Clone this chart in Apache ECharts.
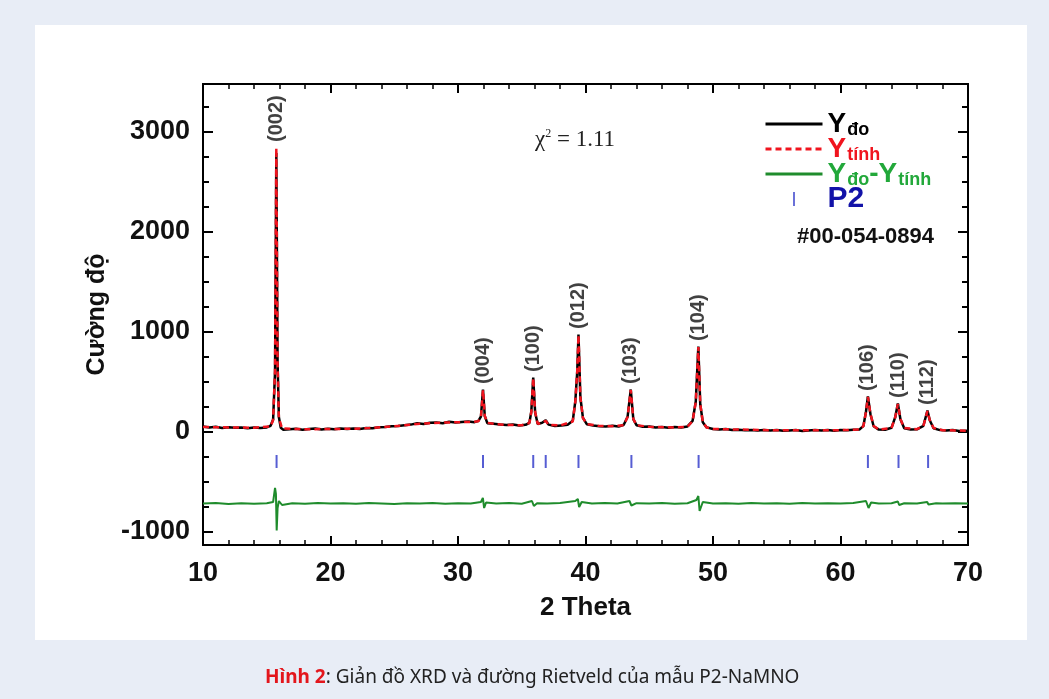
<!DOCTYPE html>
<html>
<head>
<meta charset="utf-8">
<script src="https://cdn.jsdelivr.net/npm/echarts@6/dist/echarts.min.js"></script>
<style>
    html, body { margin: 0; padding: 0; background: #e8edf6; }
    #chart { width: 1049px; height: 699px; }
</style>
</head>
<body>
<div id="chart"></div>
<script>
// 实测强度 Y_đo: [2θ, 强度]
const yObs = [
    [10.0,55],[10.5,45],[11.0,52],[11.5,40],[12.0,48],[12.5,42],[13.0,46],[13.5,38],[14.0,44],[14.5,40],
    [15.0,46],[15.3,62],[15.5,125],[15.65,600],[15.75,2790],[15.85,700],[15.95,150],[16.1,42],[16.3,22],[16.8,28],
    [17.3,32],[17.8,22],[18.3,30],[18.8,34],[19.3,25],[19.8,32],[20.3,27],[20.8,36],[21.3,29],[21.8,35],
    [22.3,30],[22.8,40],[23.3,38],[23.8,47],[24.3,50],[24.8,57],[25.3,60],[25.8,68],[26.3,74],[26.8,88],
    [27.3,80],[27.8,92],[28.3,96],[28.8,88],[29.3,102],[29.8,94],[30.3,101],[30.8,106],[31.3,98],[31.6,112],
    [31.8,155],[31.96,425],[32.1,160],[32.3,88],[32.8,82],[33.3,74],[33.8,71],[34.3,74],[34.8,64],[35.3,72],
    [35.6,92],[35.75,205],[35.9,545],[36.05,195],[36.25,80],[36.6,92],[36.88,118],[37.1,74],[37.6,60],[38.1,66],
    [38.6,72],[39.0,112],[39.2,305],[39.35,600],[39.45,975],[39.6,345],[39.8,142],[40.1,78],[40.6,66],[41.1,58],
    [41.6,56],[42.1,63],[42.6,54],[43.0,72],[43.3,152],[43.55,425],[43.75,128],[44.0,68],[44.5,52],[45.0,56],
    [45.5,44],[46.0,51],[46.5,42],[47.0,49],[47.5,44],[48.0,56],[48.4,112],[48.65,305],[48.85,855],[49.0,278],
    [49.2,98],[49.5,46],[50.0,30],[50.5,24],[51.0,29],[51.5,19],[52.0,23],[52.5,17],[53.0,21],[53.5,14],
    [54.0,21],[54.5,15],[55.0,19],[55.5,12],[56.0,16],[56.5,19],[57.0,11],[57.5,16],[58.0,21],[58.5,14],
    [59.0,19],[59.5,13],[60.0,21],[60.5,17],[61.0,23],[61.5,26],[61.8,62],[62.0,205],[62.15,355],[62.35,178],
    [62.6,58],[63.0,24],[63.5,22],[64.0,42],[64.3,152],[64.5,285],[64.7,128],[65.0,38],[65.5,24],[66.0,27],
    [66.5,62],[66.82,215],[67.0,118],[67.3,38],[67.8,19],[68.3,14],[68.8,21],[69.3,11],[70.0,12]
];

// 计算强度 Y_tính
const yCalc = [
    [10.0,50],[12.0,46],[14.0,43],[15.3,55],[15.5,120],[15.65,620],[15.75,2840],[15.85,680],[15.95,140],[16.2,35],
    [18.0,28],[20.0,30],[22.0,33],[23.0,40],[24.0,48],[25.0,58],[26.0,70],[27.0,82],[28.0,90],[29.0,95],
    [30.0,98],[31.0,100],[31.6,108],[31.8,150],[31.96,420],[32.1,160],[32.3,92],[33.0,78],[34.0,70],[35.0,68],
    [35.6,90],[35.75,200],[35.9,540],[36.05,200],[36.25,82],[36.6,88],[36.88,112],[37.1,72],[38.0,65],[39.0,105],
    [39.2,300],[39.35,610],[39.45,970],[39.6,340],[39.8,140],[40.1,80],[41.0,62],[42.0,58],[43.0,68],[43.3,150],
    [43.55,420],[43.75,130],[44.0,68],[45.0,52],[47.0,46],[48.0,52],[48.4,110],[48.65,300],[48.85,850],[49.0,280],
    [49.2,100],[49.5,45],[50.0,30],[55.0,17],[60.0,18],[61.5,25],[61.8,60],[62.0,200],[62.15,350],[62.35,180],
    [62.6,60],[63.0,25],[64.0,40],[64.3,150],[64.5,280],[64.7,130],[65.0,40],[66.0,28],[66.5,60],[66.82,210],
    [67.0,120],[67.3,40],[68.0,18],[70.0,12]
];

// 差值曲线 Y_đo - Y_tính（整体下移显示）
const yDiff = [
    [10,-715],[11,-710],[12,-720],[13,-712],[14,-718],[15,-712],[15.5,-700],[15.65,-560],[15.72,-620],[15.78,-985],
    [15.85,-760],[15.95,-690],[16.2,-730],[17,-712],[18,-718],[19,-710],[20,-716],[21,-712],[22,-718],[23,-710],
    [24,-715],[25,-720],[26,-712],[27,-716],[28,-710],[29,-718],[30,-712],[31,-716],[31.8,-700],[31.95,-660],
    [32.05,-760],[32.2,-705],[33,-715],[34,-710],[35,-718],[35.8,-690],[35.95,-740],[36.2,-712],[37,-716],[38,-710],
    [39.2,-690],[39.4,-670],[39.5,-750],[39.7,-700],[40.5,-715],[41.5,-710],[42.5,-716],[43.45,-690],[43.6,-735],[44,-712],
    [45,-716],[46,-710],[47,-718],[48,-712],[48.7,-680],[48.85,-640],[48.95,-790],[49.2,-700],[50,-715],[51,-712],
    [52,-718],[53,-710],[54,-716],[55,-712],[56,-718],[57,-710],[58,-715],[59,-712],[60,-716],[61,-710],
    [62,-690],[62.1,-670],[62.2,-760],[62.4,-705],[63,-716],[64,-712],[64.5,-695],[64.6,-730],[65,-712],[66,-716],
    [66.8,-700],[66.9,-725],[67.5,-712],[68,-715],[69,-712],[70,-714]
];

// P2 #00-054-0894 衍射峰位置
const p2Positions = [15.77, 31.96, 35.9, 36.88, 39.45, 43.6, 48.87, 62.15, 64.55, 66.87];
const p2Row = -295;

// 晶面指数标注
const hklNames = ['(002)', '(004)', '(100)', '(012)', '(103)', '(104)', '(106)', '(110)', '(112)'];
const hklPos = [15.77, 31.96, 35.9, 39.45, 43.55, 48.87, 62.15, 64.55, 66.85];
const hklTop = [2840, 420, 540, 970, 420, 850, 350, 280, 210];

// 坐标轴刻度
const xMin = 10, xMax = 70;
const yMin = -1130, yMax = 3480;
const yMajor = [-1000, 0, 1000, 2000, 3000];
const yMinor = [-1000, -750, -500, -250, 0, 250, 500, 750, 1000, 1250, 1500, 1750,
    2000, 2250, 2500, 2750, 3000, 3250];

const FONT = 'Liberation Sans';

/**
 * 生成y轴（左/右，主/次刻度）
 */
function makeYAxis(position, ticks, len, withLabel) {
    return {
        type: 'value', position: position, min: yMin, max: yMax,
        axisLine: { show: true, onZero: false, lineStyle: { color: '#000', width: 2 } },
        axisTick: { show: true, inside: true, length: len, customValues: ticks,
            lineStyle: { color: '#000', width: 2 } },
        axisLabel: withLabel ? {
            show: true, customValues: yMajor, margin: 13,
            formatter: v => String(v),
            fontFamily: FONT, fontWeight: 'bold', fontSize: 27, color: '#111'
        } : { show: false },
        splitLine: { show: false },
        name: withLabel ? 'Cường độ' : '',
        nameLocation: 'middle', nameGap: 77,
        nameTextStyle: { fontFamily: FONT, fontWeight: 'bold', fontSize: 25, color: '#111' }
    };
}

function makeXAxis(position, withLabel) {
    return {
        type: 'value', position: position, min: xMin, max: xMax, interval: 10,
        axisLine: { show: true, onZero: false, lineStyle: { color: '#000', width: 2 } },
        axisTick: { show: true, inside: true, length: 9, lineStyle: { color: '#000', width: 2 } },
        minorTick: { show: true, splitNumber: 5, length: 5, lineStyle: { color: '#000', width: 1.5 } },
        axisLabel: withLabel ? {
            show: true, margin: 15,
            fontFamily: FONT, fontWeight: 'bold', fontSize: 27, color: '#111'
        } : { show: false },
        splitLine: { show: false },
        name: withLabel ? '2 Theta' : '',
        nameLocation: 'middle', nameGap: 50,
        nameTextStyle: { fontFamily: FONT, fontWeight: 'bold', fontSize: 26, color: '#111' }
    };
}

// 图例文字（下标用小字号并下移）
const legendText = {
    'Yđo': '{yk|Y}{sk|đo}',
    'Ytính': '{yr|Y}{sr|tính}',
    'Yđo-Ytính': '{yg|Y}{sg|đo}{yg|-Y}{sg|tính}',
    'P2': '{p2|P2}'
};
const bigY = { fontFamily: FONT, fontSize: 28, fontWeight: 'bold', lineHeight: 22 };
const subY = { fontFamily: FONT, fontSize: 18, fontWeight: 'bold', lineHeight: 12, padding: [12, 0, 0, 1] };

const chart = echarts.init(document.getElementById('chart'));

chart.setOption({
    backgroundColor: '#e8edf6',
    animation: false,
    title: {
        left: 265, top: 668, padding: 0,
        text: '{r|Hình 2}{n|: Giản đồ XRD và đường Rietveld của mẫu P2-NaMNO}',
        textStyle: {
            rich: {
                r: { fontFamily: 'Noto Sans', fontSize: 19, fontWeight: 'bold', color: '#e3161c' },
                n: { fontFamily: 'Noto Sans', fontSize: 19, fontWeight: 'normal', color: '#222' }
            }
        }
    },
    graphic: [
        { type: 'rect', z: -100, shape: { x: 35, y: 25, width: 992, height: 615 }, style: { fill: '#fff' } },
        {
            type: 'text', x: 797, y: 237,
            style: { text: '#00-054-0894', fontFamily: FONT, fontSize: 22, fontWeight: 'bold',
                fill: '#111', verticalAlign: 'middle' }
        },
        {
            type: 'text', x: 535, y: 140,
            style: {
                text: '{a|χ}{s|2}{a| = 1.11}', verticalAlign: 'middle',
                rich: {
                    a: { fontFamily: 'Liberation Serif', fontSize: 23, fill: '#222', lineHeight: 22 },
                    s: { fontFamily: 'Liberation Serif', fontSize: 12, fill: '#222', lineHeight: 12,
                        padding: [0, 0, 12, 0] }
                }
            }
        }
    ],
    legend: {
        orient: 'vertical', left: 764, top: 109, padding: 0,
        itemWidth: 57, itemHeight: 14, itemGap: -5,
        selectedMode: false,
        // 只显示线段，不显示线上的标记点
        itemStyle: { opacity: 0 },
        lineStyle: { width: 3 },
        formatter: name => legendText[name],
        textStyle: {
            rich: {
                yk: Object.assign({ color: '#000' }, bigY),
                sk: Object.assign({ color: '#000' }, subY),
                yr: Object.assign({ color: '#f0141e' }, bigY),
                sr: Object.assign({ color: '#f0141e' }, subY),
                yg: Object.assign({ color: '#22a83a' }, bigY),
                sg: Object.assign({ color: '#22a83a' }, subY),
                p2: { fontFamily: FONT, fontSize: 30, fontWeight: 'bold', color: '#1212a8', lineHeight: 24 }
            }
        },
        data: [
            { name: 'Yđo' },
            { name: 'Ytính' },
            { name: 'Yđo-Ytính' },
            { name: 'P2', icon: 'path://M0,0H1V10H0Z', itemStyle: { opacity: 1 } }
        ]
    },
    grid: { left: 203, top: 84, right: 81, bottom: 154 },
    xAxis: [makeXAxis('bottom', true), makeXAxis('top', false)],
    yAxis: [
        makeYAxis('left', yMajor, 10, true),
        makeYAxis('left', yMinor, 6, false),
        makeYAxis('right', yMajor, 10, false),
        makeYAxis('right', yMinor, 6, false)
    ],
    series: [
        {
            name: 'Yđo', type: 'line', data: yObs, symbol: 'none', z: 2,
            lineStyle: { color: '#000', width: 2.5 }, itemStyle: { color: '#000' }
        },
        {
            name: 'Ytính', type: 'line', data: yCalc, symbol: 'none', z: 3,
            lineStyle: { color: '#f0141e', width: 2.5, type: [6, 4] }, itemStyle: { color: '#f0141e' }
        },
        {
            name: 'Yđo-Ytính', type: 'line', data: yDiff, symbol: 'none', z: 2,
            lineStyle: { color: '#1f8c2c', width: 2 }, itemStyle: { color: '#1f8c2c' }
        },
        {
            name: 'P2', type: 'scatter', symbol: 'rect', symbolSize: [2, 13],
            data: p2Positions.map(x => [x, p2Row]),
            itemStyle: { color: '#2c34c8' }
        },
        {
            name: 'hkl', type: 'scatter', symbolSize: 0, silent: true,
            data: hklPos.map((x, i) => ({ value: [x, hklTop[i]], name: hklNames[i] })),
            label: {
                show: true, position: 'inside', rotate: 90,
                align: 'left', verticalAlign: 'middle', padding: [0, 0, 0, 6],
                formatter: p => p.name,
                fontFamily: FONT, fontWeight: 'bold', fontSize: 20, color: '#111'
            }
        }
    ]
});

window.addEventListener('resize', () => chart.resize());
</script>
</body>
</html>
